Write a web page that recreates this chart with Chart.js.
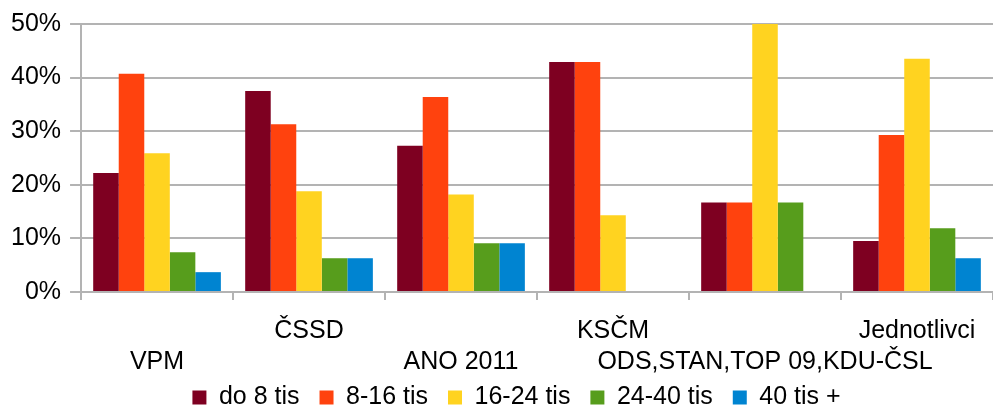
<!DOCTYPE html>
<html>
<head>
<meta charset="utf-8">
<script src="https://cdn.jsdelivr.net/npm/chart.js@4"></script>
<style>
  html, body { margin: 0; padding: 0; background: #fff; }
  #wrap { width: 993px; height: 407px; position: relative; }
</style>
</head>
<body>
<div id="wrap"><canvas id="chart"></canvas></div>
<script>
const categories = ['VPM', 'ČSSD', 'ANO 2011', 'KSČM', 'ODS,STAN,TOP 09,KDU-ČSL', 'Jednotlivci'];
const seriesNames = ['do 8 tis', '8-16 tis', '16-24 tis', '24-40 tis', '40 tis +'];
const seriesColors = ['#7e0021', '#ff420e', '#ffd320', '#579d1c', '#0084d1'];

const do8 = [22.2, 37.5, 27.3, 42.9, 16.7, 9.5];
const od8do16 = [40.7, 31.3, 36.4, 42.9, 16.7, 29.3];
const od16do24 = [25.9, 18.8, 18.2, 14.3, 50.0, 43.5];
const od24do40 = [7.4, 6.3, 9.1, 0, 16.7, 11.9];
const nad40 = [3.7, 6.3, 9.1, 0, 0, 6.3];

const yTicks = [0, 10, 20, 30, 40, 50];

const values = [do8, od8do16, od16do24, od24do40, nad40];

const fontFamily = '"Liberation Sans", Arial, sans-serif';
const grey = '#b3b3b3';

// nudge the legend up and right, like the original
const legendShift = {
  id: 'legendShift',
  afterLayout(chart) {
    const lg = chart.legend;
    if (lg) {
      lg.top -= 11;
      lg.bottom -= 11;
      lg.left += 15;
      lg.right += 15;
    }
  }
};

new Chart(document.getElementById('chart'), {
  type: 'bar',
  data: {
    labels: categories,
    datasets: values.map((v, i) => ({
      label: seriesNames[i],
      data: v,
      backgroundColor: seriesColors[i],
      borderWidth: 0,
      categoryPercentage: 0.84,
      barPercentage: 1.0
    }))
  },
  plugins: [legendShift],
  options: {
    responsive: true,
    maintainAspectRatio: false,
    animation: false,
    layout: { padding: { top: 10, right: -8, left: 2, bottom: -24 } },
    plugins: {
      tooltip: { enabled: false },
      legend: {
        position: 'bottom',
        labels: {
          font: { family: fontFamily, size: 25 },
          color: '#000',
          boxWidth: 14,
          boxHeight: 14,
          padding: 20
        }
      }
    },
    scales: {
      x: {
        afterFit: function (scale) { scale.height = 84; },
        grid: {
          offset: true,
          drawOnChartArea: false,
          color: grey,
          lineWidth: 2,
          tickLength: 8
        },
        border: { color: grey, width: 2 },
        ticks: {
          autoSkip: false,
          maxRotation: 0,
          minRotation: 0,
          color: '#000',
          font: { family: fontFamily, size: 25, lineHeight: 1.22 },
          padding: 16,
          callback: function (val, idx) {
            const name = categories[idx];
            return idx % 2 === 0 ? ['', name] : [name, ''];
          }
        }
      },
      y: {
        min: 0,
        max: 50,
        afterBuildTicks: function (axis) {
          axis.ticks = yTicks.map(v => ({ value: v }));
        },
        grid: { color: grey, lineWidth: 2, tickLength: 11 },
        border: { color: grey, width: 2 },
        ticks: {
          color: '#000',
          font: { family: fontFamily, size: 25 },
          padding: 9,
          callback: v => v + '%'
        }
      }
    }
  }
});
</script>
</body>
</html>
